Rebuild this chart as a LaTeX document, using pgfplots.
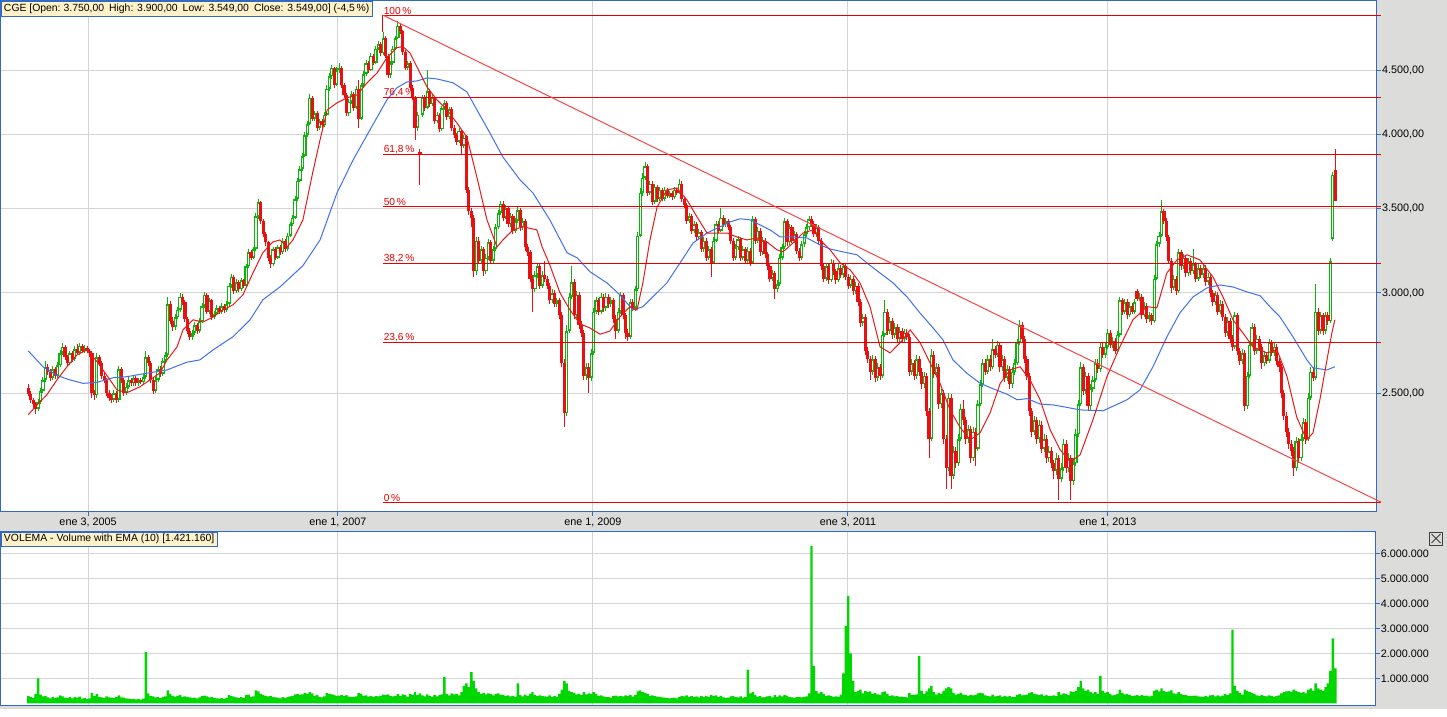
\documentclass[border=0pt]{standalone}
\usepackage{pgfplots}
\usepackage{pgfplotstable}
\pgfplotsset{compat=1.18}
\usepackage{fontspec}
\setmainfont{Liberation Sans}

\definecolor{panelgray}{RGB}{220,221,218}
\definecolor{frameblue}{RGB}{49,106,197}
\definecolor{gridgray}{RGB}{212,212,212}
\definecolor{upgreen}{RGB}{12,180,12}
\definecolor{downred}{RGB}{232,16,16}
\definecolor{volgreen}{RGB}{0,214,0}
\definecolor{emared}{RGB}{232,24,24}
\definecolor{smablue}{RGB}{64,112,240}
\definecolor{fibred}{RGB}{230,0,0}
\definecolor{trendred}{RGB}{244,70,70}
\definecolor{boxyellow}{RGB}{255,241,200}

\pgfplotsset{
  candle part/.style 2 args={draw=none, mark=none, forget plot,
    error bars/.cd, y dir=plus, y explicit, error mark=none,
    error mark options={draw=none},
    error bar style={draw=#1, line width=#2}},
}

% weekly candles: open, high, low, close, volume (thousands)
\pgfplotstableread{
o h l c v
2525 2540 2485 2495 300
2495 2510 2455 2470 250
2470 2480 2435 2450 220
2450 2460 2405 2430 380
2430 2475 2420 2460 1000
2460 2525 2450 2510 350
2510 2575 2500 2560 280
2560 2650 2550 2620 300
2620 2635 2585 2600 240
2600 2610 2555 2570 200
2570 2625 2560 2610 260
2610 2620 2565 2580 210
2580 2645 2570 2630 240
2630 2705 2620 2690 320
2690 2740 2680 2720 280
2720 2730 2655 2670 230
2670 2680 2625 2640 210
2640 2700 2630 2690 260
2690 2700 2645 2660 200
2660 2725 2650 2710 250
2710 2735 2680 2690 230
2690 2740 2680 2725 270
2725 2735 2690 2700 190
2700 2730 2690 2715 210
2715 2725 2690 2700 180
2700 2710 2670 2690 200
2690 2700 2480 2500 420
2500 2515 2470 2490 300
2490 2690 2480 2670 380
2670 2680 2625 2640 260
2640 2650 2565 2580 240
2580 2595 2545 2560 220
2560 2570 2485 2500 280
2500 2515 2465 2480 240
2480 2495 2455 2470 230
2470 2515 2460 2500 220
2500 2510 2455 2470 250
2470 2625 2460 2610 320
2610 2620 2545 2560 240
2560 2570 2485 2500 230
2500 2545 2490 2530 200
2530 2575 2520 2560 190
2560 2570 2535 2545 170
2545 2580 2535 2570 180
2570 2580 2535 2545 160
2545 2570 2535 2560 170
2560 2570 2540 2550 150
2550 2590 2540 2575 190
2575 2700 2565 2670 2050
2670 2680 2625 2640 400
2640 2650 2545 2560 300
2560 2570 2495 2510 280
2510 2575 2500 2560 240
2560 2625 2550 2610 260
2610 2625 2575 2590 210
2590 2665 2580 2650 250
2650 2695 2640 2680 280
2680 2980 2670 2940 520
2940 2955 2835 2850 380
2850 2870 2800 2820 300
2820 2885 2805 2870 270
2870 2925 2860 2910 300
2910 3000 2900 2980 340
2980 2995 2935 2950 260
2950 2960 2845 2860 280
2860 2870 2785 2800 260
2800 2815 2755 2770 240
2770 2805 2755 2790 220
2790 2845 2780 2830 230
2830 2840 2785 2800 200
2800 2865 2790 2850 240
2850 2945 2840 2930 290
2930 3005 2920 2990 310
2990 3000 2885 2900 280
2900 2975 2890 2960 240
2960 2970 2855 2870 260
2870 2905 2860 2890 210
2890 2935 2880 2920 200
2920 2930 2885 2900 190
2900 2945 2890 2930 210
2930 2940 2895 2910 180
2910 2955 2900 2940 220
2940 3055 2930 3040 330
3040 3105 3030 3090 300
3090 3100 2995 3010 270
3010 3075 3000 3060 240
3060 3070 3005 3020 220
3020 3085 3010 3070 250
3070 3080 3025 3040 210
3040 3165 3030 3150 330
3150 3250 3140 3230 350
3230 3245 3185 3200 260
3200 3265 3190 3250 280
3250 3470 3240 3450 520
3450 3560 3430 3540 480
3540 3550 3400 3420 380
3420 3430 3320 3340 330
3340 3355 3270 3290 300
3290 3300 3180 3200 280
3200 3215 3140 3160 300
3160 3265 3150 3250 250
3250 3260 3185 3200 240
3200 3275 3190 3260 230
3260 3275 3215 3230 200
3230 3315 3220 3300 250
3300 3310 3235 3250 210
3250 3345 3240 3330 260
3330 3415 3320 3400 280
3400 3460 3390 3440 290
3440 3580 3430 3560 360
3560 3700 3550 3680 380
3680 3780 3670 3760 340
3760 3870 3745 3850 360
3850 4020 3840 4000 420
4000 4100 3985 4080 380
4080 4310 4070 4280 450
4280 4290 4100 4120 400
4120 4180 4100 4160 300
4160 4175 4030 4050 330
4050 4120 4035 4100 260
4100 4115 4050 4070 240
4070 4170 4060 4150 280
4150 4380 4140 4350 420
4350 4475 4330 4450 380
4450 4545 4430 4520 360
4520 4530 4360 4380 340
4380 4525 4370 4500 300
4500 4560 4480 4520 310
4520 4535 4360 4380 330
4380 4395 4280 4300 290
4300 4315 4140 4160 330
4160 4270 4140 4250 270
4250 4330 4235 4310 250
4310 4325 4180 4200 260
4200 4370 4190 4350 280
4350 4420 4050 4120 420
4120 4400 4110 4380 380
4380 4490 4365 4470 300
4470 4585 4455 4560 320
4560 4580 4480 4500 270
4500 4640 4490 4620 300
4620 4635 4540 4560 260
4560 4700 4550 4680 290
4680 4745 4665 4720 280
4720 4735 4620 4640 300
4640 4820 4630 4770 350
4770 4785 4600 4620 330
4620 4635 4440 4460 360
4460 4580 4440 4560 300
4560 4700 4545 4680 280
4680 4790 4665 4770 300
4770 4925 4760 4880 380
4880 4900 4810 4830 300
4830 4845 4630 4650 360
4650 4665 4500 4520 330
4520 4580 4500 4560 260
4560 4575 4340 4360 380
4360 4380 4260 4280 340
4280 4295 3960 4050 450
4050 4170 4030 4150 330
3880 3900 3650 3860 400
4150 4300 4130 4280 320
4280 4300 4180 4200 280
4200 4500 4190 4330 360
4330 4345 4210 4230 300
4230 4300 4215 4280 260
4280 4295 4080 4100 340
4100 4170 4085 4150 280
4150 4165 4020 4040 330
4040 4220 4030 4200 360
4200 4260 4185 4240 1050
4240 4255 4110 4130 380
4130 4210 4115 4190 320
4190 4205 4030 4050 400
4050 4070 3980 4000 360
4000 4015 3930 3950 380
3950 4050 3940 4030 320
4030 4045 3860 3920 450
3920 4000 3905 3980 700
3990 4000 3600 3620 800
3620 3640 3460 3480 650
3480 3500 3380 3440 1250
3440 3455 3090 3120 900
3120 3320 3100 3300 600
3300 3320 3160 3180 450
3180 3270 3165 3250 380
3250 3265 3095 3120 420
3120 3220 3105 3200 360
3200 3310 3185 3290 400
3290 3305 3160 3180 370
3180 3270 3165 3250 320
3250 3400 3240 3380 380
3380 3490 3370 3470 400
3470 3550 3455 3530 350
3530 3545 3420 3440 330
3440 3520 3430 3500 300
3500 3515 3380 3400 320
3400 3470 3385 3450 280
3450 3465 3340 3360 300
3360 3440 3345 3420 260
3420 3510 3405 3490 800
3490 3505 3360 3380 330
3380 3440 3365 3420 280
3420 3435 3240 3260 350
3260 3280 3210 3230 300
3230 3245 3060 3080 380
3080 3100 2900 3020 450
3020 3120 3005 3100 340
3100 3170 3085 3150 300
3150 3165 3020 3040 320
3040 3120 3025 3100 290
3100 3180 3060 3080 280
3080 3095 3020 3040 270
3040 3055 2940 2960 320
2960 3020 2945 3000 260
3000 3015 2925 2940 300
2940 2975 2925 2960 250
2960 2975 2860 2880 380
2880 2900 2620 2640 550
2640 2660 2350 2410 900
2410 2830 2400 2800 800
2800 3000 2790 2980 500
2980 3150 2965 3060 450
3060 3075 2860 2880 420
2880 3010 2865 2990 360
2990 3005 2810 2830 380
2830 2850 2770 2790 330
2790 2805 2560 2580 450
2580 2640 2560 2620 360
2620 2640 2500 2570 400
2570 2710 2555 2690 380
2690 2920 2680 2900 450
2900 2980 2885 2960 380
2960 2975 2880 2900 300
2900 3000 2890 2980 320
2980 2995 2900 2920 280
2920 3000 2905 2980 260
2980 2995 2920 2940 250
2940 2980 2925 2960 230
2960 2975 2840 2860 290
2860 2880 2760 2800 310
2800 2920 2790 2900 280
2900 3005 2885 2990 300
2990 3000 2860 2880 280
2880 2895 2760 2790 320
2790 2810 2750 2770 300
2770 2970 2760 2950 340
2950 2970 2905 2920 270
2920 3040 2905 3020 330
3020 3350 3010 3330 480
3330 3630 3320 3600 520
3600 3730 3580 3700 450
3700 3805 3685 3780 420
3780 3795 3580 3600 380
3600 3680 3585 3660 300
3660 3675 3520 3540 320
3540 3660 3525 3640 290
3640 3655 3540 3560 270
3560 3640 3545 3620 250
3620 3635 3545 3560 240
3560 3640 3545 3620 230
3620 3635 3565 3580 220
3580 3615 3565 3600 200
3600 3615 3555 3570 210
3570 3640 3560 3620 230
3620 3635 3585 3600 200
3600 3690 3590 3660 260
3660 3675 3540 3560 300
3560 3575 3500 3520 280
3520 3535 3400 3420 320
3420 3470 3405 3450 260
3450 3465 3340 3360 290
3360 3420 3345 3400 250
3400 3415 3300 3320 280
3320 3370 3305 3350 240
3350 3365 3230 3250 300
3250 3320 3235 3300 260
3300 3315 3180 3200 300
3200 3270 3185 3250 250
3250 3265 3090 3170 330
3170 3320 3160 3300 300
3300 3420 3290 3400 320
3400 3420 3345 3360 250
3360 3500 3350 3440 300
3440 3455 3385 3400 240
3400 3440 3385 3420 220
3420 3435 3365 3380 230
3380 3395 3280 3300 280
3300 3315 3180 3200 300
3200 3280 3185 3260 250
3260 3330 3245 3310 240
3310 3325 3180 3200 280
3200 3270 3185 3250 230
3250 3265 3160 3180 260
3180 3260 3165 3240 1350
3240 3255 3150 3170 400
3170 3450 3160 3430 450
3430 3445 3280 3300 330
3300 3380 3285 3360 260
3360 3375 3210 3230 290
3230 3320 3215 3300 240
3300 3315 3200 3220 250
3220 3235 3130 3150 280
3150 3165 3060 3080 300
3080 3130 3065 3110 240
3110 3125 2970 3020 330
3020 3070 3005 3050 260
3050 3220 3040 3200 320
3200 3280 3185 3260 280
3260 3440 3250 3420 330
3420 3435 3270 3290 300
3290 3400 3275 3380 250
3380 3395 3285 3300 240
3300 3360 3285 3340 220
3340 3355 3220 3240 260
3240 3255 3180 3200 250
3200 3300 3185 3280 240
3280 3360 3265 3340 260
3340 3400 3325 3380 280
3380 3450 3365 3430 400
3430 3450 3380 3400 6300
3400 3420 3320 3340 1500
3340 3400 3325 3380 500
3380 3395 3280 3300 400
3300 3315 3130 3150 450
3150 3165 3060 3080 380
3080 3170 3065 3150 300
3150 3165 3050 3070 320
3070 3190 3060 3170 300
3170 3185 3100 3120 260
3120 3135 3050 3070 280
3070 3160 3060 3140 260
3140 3155 3085 3100 350
3100 3165 3085 3150 1200
3150 3165 3070 3090 3100
3090 3105 3020 3040 4300
3040 3100 3025 3080 2000
3080 3095 2990 3010 900
3010 3060 2995 3040 450
3040 3055 2930 2950 500
2950 2965 2820 2840 550
2840 2890 2825 2870 400
2870 2885 2680 2700 500
2700 2720 2640 2660 450
2660 2675 2560 2600 480
2600 2680 2585 2660 380
2660 2675 2550 2570 420
2570 2640 2555 2620 360
2620 2635 2560 2580 330
2580 2800 2570 2780 450
2780 2960 2770 2900 480
2900 2915 2780 2800 380
2800 2870 2785 2850 300
2850 2865 2760 2780 320
2780 2840 2765 2820 280
2820 2835 2745 2760 290
2760 2820 2745 2800 260
2800 2815 2745 2760 270
2760 2810 2745 2790 250
2790 2810 2755 2770 240
2770 2785 2580 2600 420
2600 2660 2585 2640 330
2640 2655 2560 2580 340
2580 2680 2565 2660 360
2660 2675 2580 2600 1900
2600 2615 2520 2540 500
2540 2600 2525 2580 380
2580 2595 2400 2420 480
2420 2435 2220 2300 600
2300 2710 2290 2680 700
2680 2700 2570 2590 450
2590 2640 2575 2620 350
2620 2635 2430 2450 420
2450 2520 2435 2500 380
2500 2515 2280 2300 500
2300 2315 2100 2180 600
2180 2500 2170 2480 650
2480 2495 2100 2150 600
2150 2270 2140 2250 420
2250 2265 2180 2200 350
2200 2320 2190 2300 380
2300 2450 2290 2430 420
2430 2470 2360 2380 350
2380 2395 2280 2300 330
2300 2360 2285 2340 300
2340 2355 2200 2220 340
2220 2350 2210 2330 320
2330 2345 2190 2260 330
2260 2470 2250 2450 400
2450 2560 2440 2540 420
2540 2660 2530 2640 400
2640 2660 2585 2600 320
2600 2680 2590 2660 300
2660 2680 2605 2620 280
2620 2760 2610 2710 350
2710 2725 2665 2680 280
2680 2750 2670 2730 290
2730 2745 2600 2620 320
2620 2680 2605 2660 260
2660 2675 2550 2570 300
2570 2630 2555 2610 270
2610 2625 2520 2540 290
2540 2620 2525 2600 260
2600 2660 2585 2640 250
2640 2760 2630 2740 330
2740 2857 2730 2830 380
2830 2845 2740 2760 320
2760 2775 2640 2660 330
2660 2675 2560 2580 350
2580 2595 2400 2420 420
2420 2435 2310 2330 450
2330 2400 2315 2380 380
2380 2395 2280 2300 360
2300 2380 2285 2360 330
2360 2375 2240 2260 360
2260 2320 2245 2300 300
2300 2315 2200 2220 340
2220 2270 2205 2250 290
2250 2265 2180 2200 300
2200 2215 2140 2170 320
2170 2240 2155 2220 290
2220 2235 2060 2140 450
2140 2200 2125 2180 350
2180 2300 2170 2280 400
2280 2295 2160 2180 380
2180 2240 2165 2220 330
2220 2235 2060 2130 480
2130 2220 2115 2200 450
2200 2340 2190 2320 500
2320 2470 2310 2450 650
2450 2645 2440 2620 900
2620 2635 2490 2510 600
2510 2600 2495 2580 500
2580 2595 2420 2440 550
2440 2540 2425 2520 450
2520 2580 2505 2560 400
2560 2660 2550 2640 450
2640 2660 2595 2610 380
2610 2740 2600 2720 1100
2720 2740 2665 2680 500
2680 2740 2665 2720 420
2720 2810 2710 2790 450
2790 2805 2715 2730 380
2730 2770 2715 2750 320
2750 2765 2685 2700 330
2700 2800 2690 2780 380
2780 2980 2770 2960 550
2960 2975 2880 2900 420
2900 2970 2885 2950 360
2950 2965 2860 2880 380
2880 2950 2870 2930 330
2930 2945 2885 2900 300
2900 2970 2890 2950 310
3010 3020 2955 2970 330
2970 3000 2955 2980 290
2980 2995 2860 2880 340
2880 2950 2870 2930 300
2930 2945 2840 2860 310
2860 2900 2845 2880 280
2880 2895 2830 2850 300
2850 3100 2840 3080 500
3080 3300 3070 3280 550
3280 3350 3265 3330 480
3330 3555 3320 3480 600
3480 3495 3400 3420 500
3420 3440 3300 3320 450
3320 3335 3160 3180 480
3180 3195 3000 3030 520
3030 3100 3015 3080 400
3080 3095 2990 3010 380
3010 3250 3000 3230 450
3230 3245 3130 3150 380
3150 3220 3135 3200 330
3200 3215 3090 3110 340
3110 3200 3095 3180 300
3180 3195 3100 3120 290
3120 3250 3105 3160 300
3160 3175 3060 3080 310
3080 3160 3065 3140 280
3140 3155 3085 3100 270
3100 3160 3085 3140 260
3140 3155 3040 3060 300
3060 3110 3045 3090 270
3090 3105 2980 3000 320
3000 3015 2930 2950 330
2950 3010 2935 2990 280
2990 3005 2880 2900 320
2900 2960 2885 2940 280
2940 2955 2850 2870 310
2870 2885 2770 2790 380
2790 2870 2775 2850 330
2850 2865 2740 2760 400
2760 2780 2700 2720 2950
2720 2900 2710 2880 700
2880 2895 2680 2700 500
2700 2715 2630 2650 420
2650 2710 2635 2690 350
2690 2705 2420 2440 550
2440 2600 2430 2580 500
2580 2750 2570 2730 450
2730 2840 2720 2820 420
2820 2835 2680 2700 380
2700 2780 2685 2760 320
2760 2775 2700 2720 300
2720 2735 2610 2640 340
2640 2700 2625 2680 290
2680 2695 2635 2650 280
2650 2760 2640 2740 320
2740 2755 2675 2690 300
2690 2740 2675 2720 270
2720 2735 2630 2650 300
2650 2665 2600 2620 320
2620 2635 2480 2500 400
2500 2515 2380 2400 450
2400 2415 2310 2330 480
2330 2345 2260 2280 500
2280 2295 2230 2250 450
2250 2265 2150 2180 550
2180 2310 2170 2290 500
2290 2305 2200 2220 450
2220 2320 2210 2300 420
2300 2390 2290 2370 450
2370 2385 2280 2300 400
2300 2500 2290 2480 550
2480 2620 2470 2600 600
2600 2620 2555 2570 500
2570 3050 2560 2900 800
2900 2920 2780 2800 600
2800 2900 2785 2880 550
2880 2895 2780 2800 500
2800 2900 2785 2880 650
2880 2900 2830 2850 800
2850 3200 2840 3180 1300
3310 3740 3300 3720 2600
3750 3900 3549 3549 1400
}\weekly

\begin{document}
\begin{tikzpicture}
\fill[panelgray] (0pt,0pt) rectangle (1447pt,-709pt);

% ---------------- price panel ----------------
\begin{axis}[
  at={(0.5pt,-0.5pt)}, anchor=north west,
  scale only axis, width=1376.5pt, height=511.2pt,
  ymode=log, ymin=2015, ymax=5109,
  xmin=-11.36, xmax=551.03,
  clip=false,
  axis background/.style={fill=white},
  axis line style={draw=frameblue, line width=1pt},
  xtick={24.4,126.5,230.7,334.9,441.1},
  xticklabels={{ene 3, 2005},{ene 1, 2007},{ene 1, 2009},{ene 3, 2011},{ene 1, 2013}},
  ytick={2500,3000,3500,4000,4500},
  yticklabels={{2.500,00},{3.000,00},{3.500,00},{4.000,00},{4.500,00}},
  xtick pos=left, ytick pos=right, yticklabel pos=right,
  tick align=outside, major tick length=4pt,
  tick style={draw=frameblue, line width=1pt},
  minor tick num=0,
  grid=major, grid style={draw=gridgray, line width=1pt},
  ticklabel style={font=\fontsize{10.8}{12}\selectfont, text=black},
  yticklabel style={anchor=west, inner sep=1pt},
  xticklabel style={inner sep=2pt},
]
% wicks
\addplot[candle part={upgreen}{1pt}]
  table[x expr=\coordindex, y expr={\thisrow{c}>=\thisrow{o} ? \thisrow{l} : nan},
        y error plus expr={\thisrow{h}-\thisrow{l}}] {\weekly};
\addplot[candle part={downred}{1pt}]
  table[x expr=\coordindex, y expr={\thisrow{c}<\thisrow{o} ? \thisrow{l} : nan},
        y error plus expr={\thisrow{h}-\thisrow{l}}] {\weekly};
% rising weeks: hollow green bodies
\addplot[candle part={upgreen}{3.3pt}]
  table[x expr=\coordindex, y expr={\thisrow{c}>=\thisrow{o} ? \thisrow{o} : nan},
        y error plus expr={\thisrow{c}-\thisrow{o}}] {\weekly};
\addplot[candle part={white}{1.2pt}]
  table[x expr=\coordindex, y expr={\thisrow{c}>1.008*\thisrow{o} ? 1.003*\thisrow{o} : nan},
        y error plus expr={\thisrow{c}/1.003-1.003*\thisrow{o}}] {\weekly};
% falling weeks: filled red bodies
\addplot[candle part={downred}{3.2pt}]
  table[x expr=\coordindex, y expr={\thisrow{c}<\thisrow{o} ? \thisrow{c} : nan},
        y error plus expr={\thisrow{o}-\thisrow{c}}] {\weekly};

% 40-week average
\addplot[smablue, line width=1pt] coordinates {
(0,2700)(6,2623)(11.7,2582)(17,2561)(22.4,2545)(28.1,2550)(34.6,2571)(40.3,2576)(45.6,2587)(51,2597)(56.7,2608)(64.8,2645)(70.1,2656)(75.5,2705)(83.6,2770)(90.6,2857)(95.8,2963)(102.8,3033)(112.2,3153)(119.2,3304)(126.1,3599)(132.7,3822)(139.6,4037)(146.5,4263)(150.6,4358)(154.7,4405)(158.8,4413)(162.9,4437)(167,4429)(173.5,4398)(179.2,4326)(183.3,4186)(188.6,4014)(193.9,3843)(200.9,3686)(206.2,3599)(213.1,3427)(220.1,3228)(224.2,3199)(229.5,3118)(236.4,3056)(241.7,2990)(247,2909)(251.1,2926)(256.9,3002)(260.9,3056)(266.3,3169)(271.6,3286)(277.3,3346)(282.6,3384)(286.8,3415)(290.9,3434)(295,3427)(299,3396)(303.1,3365)(307.2,3322)(312.4,3322)(318.1,3316)(323.5,3274)(327.6,3250)(332.9,3233)(338.6,3216)(342.6,3169)(347.9,3112)(353.3,3056)(359,2979)(364.3,2893)(369.6,2816)(373.7,2755)(377.8,2656)(383.5,2592)(388.9,2545)(394.2,2520)(399.9,2495)(404,2470)(408.1,2475)(413.4,2451)(418.7,2447)(424.4,2436)(429.7,2425)(439.1,2421)(448.9,2470)(454.2,2515)(459.5,2623)(465.2,2770)(470.5,2893)(475.9,2979)(481.6,3028)(486.9,3044)(492.2,3033)(497.9,3006)(503.3,2985)(507.3,2926)(511.4,2872)(516.7,2770)(522.4,2656)(524.9,2618)(530.6,2608)(533.8,2623)
};
% 10-week exponential average
\addplot[emared, line width=1pt] coordinates {
(0,2404)(3.6,2447)(7.6,2493)(11.7,2561)(15.8,2623)(19.9,2680)(24,2705)(28.1,2647)(30.5,2608)(33.4,2561)(36.2,2515)(40.3,2502)(45.6,2529)(49.7,2561)(53.8,2594)(56.7,2656)(60.8,2720)(63.2,2805)(67.3,2857)(71.4,2846)(75.5,2872)(79.5,2909)(83.6,2936)(87.7,2990)(91.8,3112)(95.8,3228)(99.9,3292)(102.8,3304)(105.7,3262)(108.1,3304)(112.2,3427)(116.3,3743)(119.2,3964)(122.1,4186)(126.1,4240)(130.2,4279)(134.3,4302)(138.4,4398)(142.5,4478)(146.5,4602)(150.6,4689)(153.1,4697)(156,4642)(158.8,4527)(162.9,4365)(167,4263)(171.1,4186)(175.1,4088)(179.2,3985)(183.3,3703)(187.4,3427)(191.5,3262)(193.9,3304)(198,3365)(202.1,3384)(207.8,3365)(210,3260)(213,3160)(217.2,3002)(221.3,2909)(225.4,2836)(229.5,2815)(233.6,2783)(237.6,2799)(241.7,2872)(245.8,2926)(248.7,2909)(251.1,3056)(254,3304)(256.9,3508)(260.9,3619)(265,3632)(269.1,3554)(273.2,3446)(277.3,3346)(281.4,3346)(285.5,3346)(289.5,3322)(293.6,3304)(297.7,3316)(301.8,3292)(305.9,3245)(308.3,3233)(312.4,3286)(316.5,3346)(320.6,3365)(323.5,3304)(327.6,3245)(331.7,3169)(335.8,3129)(339.8,3056)(343.9,2926)(348,2720)(352.1,2690)(356.2,2740)(360.3,2805)(364.4,2740)(368.5,2640)(372.5,2545)(376.6,2425)(380.7,2349)(384.8,2296)(388.9,2326)(393,2413)(397.1,2545)(401.1,2608)(405.2,2623)(409.3,2561)(413.4,2470)(417.5,2339)(421.6,2255)(425.7,2206)(429.7,2234)(435,2382)(440.7,2576)(446,2720)(451.3,2857)(457,2926)(461.1,2920)(465.2,3112)(469.3,3186)(473.4,3216)(478.7,3186)(484,3089)(488.1,2979)(492.2,2857)(496.3,2789)(500.3,2720)(506,2690)(510.2,2705)(514.3,2576)(518.2,2395)(522.3,2296)(524.9,2326)(527.7,2470)(530.6,2656)(532.6,2789)(533.8,2857)
};

% retracement levels between 2.050 and 4.974
\addplot[fibred, line width=1pt] coordinates {(144.9,4974)(552.7,4974)};
\addplot[fibred, line width=1pt] coordinates {(144.9,4284)(552.7,4284)};
\addplot[fibred, line width=1pt] coordinates {(144.9,3857)(552.7,3857)};
\addplot[fibred, line width=1pt] coordinates {(144.9,3512)(552.7,3512)};
\addplot[fibred, line width=1pt] coordinates {(144.9,3167)(552.7,3167)};
\addplot[fibred, line width=1pt] coordinates {(144.9,2740)(552.7,2740)};
\addplot[fibred, line width=1pt] coordinates {(144.9,2050)(552.7,2050)};
\addplot[fibred, line width=1pt] coordinates {(144.9,4974)(144.9,4820)};
% trend line
\addplot[trendred, line width=1pt] coordinates {(144.9,4974)(552.7,2050)};

\begin{scope}[every node/.style={anchor=south west, inner sep=0.6pt, text=fibred, font=\fontsize{10.2}{11}\selectfont}]
\node at (axis cs:144.9,4974) {100\,\%};
\node at (axis cs:144.9,4284) {76,4\,\%};
\node at (axis cs:144.9,3857) {61,8\,\%};
\node at (axis cs:144.9,3512) {50\,\%};
\node at (axis cs:144.9,3167) {38,2\,\%};
\node at (axis cs:144.9,2740) {23,6\,\%};
\node at (axis cs:144.9,2050) {0\,\%};
\end{scope}
\end{axis}

% ---------------- volume panel ----------------
\begin{axis}[
  at={(0.5pt,-531.7pt)}, anchor=north west,
  scale only axis, width=1375.2pt, height=174pt,
  ymin=-96, ymax=6864,
  xmin=-11.36, xmax=550.5,
  axis background/.style={fill=white},
  axis line style={draw=frameblue, line width=1pt},
  xtick={24.4,126.5,230.7,334.9,441.1}, xticklabels={},
  x tick style={draw=none},
  ytick={1000,2000,3000,4000,5000,6000},
  yticklabels={{1.000.000},{2.000.000},{3.000.000},{4.000.000},{5.000.000},{6.000.000}},
  ytick pos=right, yticklabel pos=right,
  tick align=outside, major tick length=4pt,
  y tick style={draw=frameblue, line width=1pt},
  minor tick num=0,
  grid=major, grid style={draw=gridgray, line width=1pt},
  ticklabel style={font=\fontsize{10.8}{12}\selectfont, text=black},
  yticklabel style={anchor=west, inner sep=1pt},
]
\addplot[ybar, bar width=1, fill=volgreen, draw=none] table[x expr=\coordindex, y=v] {\weekly};
\end{axis}

% info boxes
\node[anchor=north west, draw=frameblue, line width=1pt, fill=boxyellow, inner xsep=3pt, inner ysep=0pt,
  minimum height=15.5pt, font=\fontsize{10.4}{12}\selectfont] at (0.5pt,-0.5pt)
  {CGE [Open:\hspace{3pt}3.750,00\hspace{5pt}High: 3.900,00\hspace{5pt}Low: 3.549,00\hspace{5pt}Close: 3.549,00] (-4,5\,\%)};
\node[anchor=north west, draw=frameblue, line width=1pt, fill=boxyellow, inner xsep=3pt, inner ysep=0pt,
  minimum height=14pt, font=\fontsize{10.4}{12}\selectfont] at (0.5pt,-531.7pt)
  {VOLEMA - Volume with EMA (10) [1.421.160]};
% panel close button
\draw[black!75, line width=0.8pt] (1429.5pt,-532pt) rectangle (1442.5pt,-545pt);
\draw[black!75, line width=0.8pt] (1431.5pt,-534pt) -- (1440.5pt,-543pt) (1440.5pt,-534pt) -- (1431.5pt,-543pt);
\end{tikzpicture}
\end{document}
